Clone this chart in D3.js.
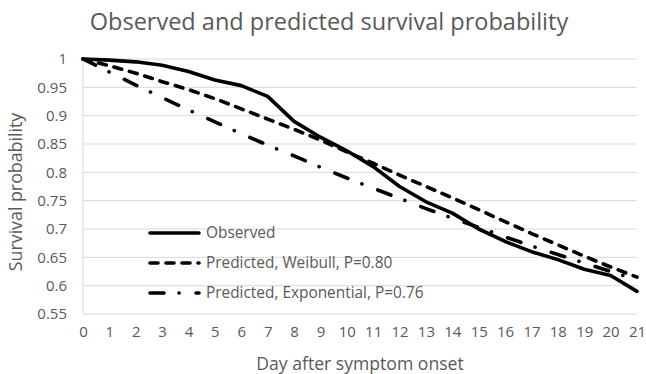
<!DOCTYPE html>
<html>
<head>
<meta charset="utf-8">
<script src="https://cdn.jsdelivr.net/npm/d3@7"></script>
<style>
  body { margin: 0; background: #fff; }
  text { font-family: "Open Sans", sans-serif; fill: #595959; }
</style>
</head>
<body>
<svg id="chart"></svg>
<script>
// values
const days = [0, 1, 2, 3, 4, 5, 6, 7, 8, 9, 10, 11, 12, 13, 14, 15, 16, 17, 18, 19, 20, 21];
const observed = [1, 0.998, 0.995, 0.989, 0.978, 0.963, 0.953, 0.934, 0.89, 0.862, 0.838, 0.81, 0.775, 0.748, 0.728, 0.7, 0.678, 0.66, 0.646, 0.629, 0.618, 0.59];
const weibull = [1, 0.988, 0.975, 0.96, 0.946, 0.93, 0.912, 0.894, 0.876, 0.857, 0.836, 0.816, 0.795, 0.775, 0.755, 0.734, 0.713, 0.692, 0.672, 0.652, 0.633, 0.615];
const exponential = [1, 0.977, 0.954, 0.932, 0.91, 0.889, 0.868, 0.848, 0.829, 0.809, 0.79, 0.772, 0.754, 0.736, 0.719, 0.703, 0.686, 0.67, 0.655, 0.64, 0.625, 0.61];
const yTicks = [0.55, 0.6, 0.65, 0.7, 0.75, 0.8, 0.85, 0.9, 0.95, 1];
const seriesNames = ["Observed", "Predicted, Weibull, P=0.80", "Predicted, Exponential, P=0.76"];

const width = 646, height = 374;
const margin = { top: 59, right: 9, bottom: 60, left: 83 };

const svg = d3.select("#chart").attr("width", width).attr("height", height);

const x = d3.scaleLinear().domain([0, 21]).range([margin.left, width - margin.right]);
const y = d3.scaleLinear().domain([0.55, 1]).range([height - margin.bottom, margin.top]);

// gridlines
svg.append("g")
  .selectAll("line")
  .data(yTicks)
  .join("line")
  .attr("x1", x(0)).attr("x2", x(21))
  .attr("y1", d => y(d)).attr("y2", d => y(d))
  .attr("stroke", "#d9d9d9").attr("stroke-width", 1);

// left axis line
svg.append("line")
  .attr("x1", x(0)).attr("x2", x(0))
  .attr("y1", y(1)).attr("y2", y(0.55))
  .attr("stroke", "#d9d9d9");

// y axis labels
const yAxis = svg.append("g")
  .attr("transform", `translate(${margin.left - 16}, 0)`)
  .call(d3.axisLeft(y).tickValues(yTicks).tickSize(0).tickPadding(0).tickFormat(d3.format("~g")));
yAxis.select(".domain").remove();
yAxis.selectAll("text").attr("font-size", 15).attr("fill", "#595959").attr("font-family", null);

// x axis labels
const xAxis = svg.append("g")
  .attr("transform", `translate(0, ${height - margin.bottom + 12})`)
  .call(d3.axisBottom(x).tickValues(days).tickSize(0).tickPadding(0).tickFormat(d3.format("d")));
xAxis.select(".domain").remove();
xAxis.selectAll("text").attr("font-size", 15).attr("fill", "#595959").attr("font-family", null);

// lines
const styles = [
  { data: observed, dash: null },
  { data: weibull, dash: "8,8" },
  { data: exponential, dash: "14,15,0.1,17" }
];
const line = d3.line().x((d, i) => x(days[i])).y(d => y(d));

styles.forEach(s => {
  svg.append("path")
    .datum(s.data)
    .attr("d", line)
    .attr("fill", "none")
    .attr("stroke", "#000")
    .attr("stroke-width", 3.6)
    .attr("stroke-linecap", "round")
    .attr("stroke-linejoin", "round")
    .attr("stroke-dasharray", s.dash);
});

// legend
const legend = svg.append("g");
const legendY = [233, 263, 293];
seriesNames.forEach((name, i) => {
  legend.append("line")
    .attr("x1", 150).attr("x2", 199)
    .attr("y1", legendY[i]).attr("y2", legendY[i])
    .attr("stroke", "#000")
    .attr("stroke-width", 3.6)
    .attr("stroke-linecap", "round")
    .attr("stroke-dasharray", styles[i].dash);
  legend.append("text")
    .attr("x", 206).attr("y", legendY[i] + 5)
    .attr("font-size", 15.4)
    .text(name);
});

// title
svg.append("text")
  .attr("x", 329).attr("y", 30)
  .attr("text-anchor", "middle")
  .attr("font-size", 23.5)
  .text("Observed and predicted survival probability");

// axis titles
svg.append("text")
  .attr("x", x(10.5)).attr("y", 370)
  .attr("text-anchor", "middle")
  .attr("font-size", 17.6)
  .text("Day after symptom onset");

svg.append("text")
  .attr("transform", `translate(22, 192) rotate(-90)`)
  .attr("text-anchor", "middle")
  .attr("font-size", 17.8)
  .text("Survival probability");
</script>
</body>
</html>
